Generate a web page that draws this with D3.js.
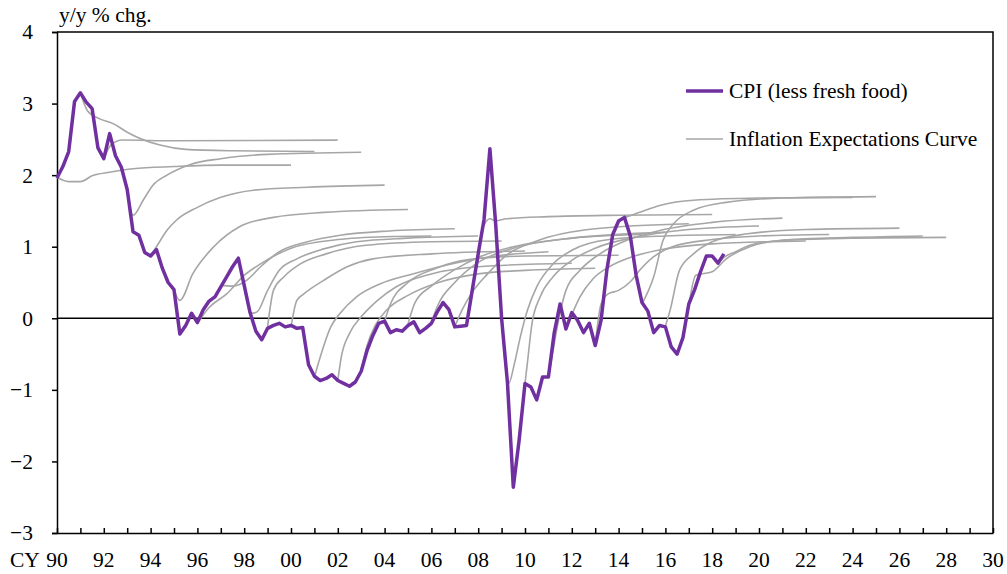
<!DOCTYPE html>
<meta charset="utf-8">
<script src="https://cdn.jsdelivr.net/npm/d3@7"></script>
<style>
body { margin: 0; background: #fff; }
text { font-family: "Liberation Serif", "Times New Roman", serif; fill: #000; }
.tick text { font-size: 21.5px; }
.cpi { fill: none; stroke: #7030a0; stroke-width: 3.5px; stroke-linejoin: round; }
.exp { fill: none; stroke: #a6a6a6; stroke-width: 1.6px; }
</style>
<svg width="1007" height="574"></svg>
<script>

// CPI (less fresh food), y/y % chg., quarterly from 1990 Q1
var cpiStart = 1990;
var cpiValues = [
  1.96, 2.12, 2.33, 3.03, 3.15, 3.02, 2.93, 2.38,   // 90-91
  2.23, 2.58, 2.27, 2.11, 1.80, 1.21, 1.16, 0.92,   // 92-93
  0.87, 0.96, 0.70, 0.50, 0.40, -0.22, -0.10, 0.07, // 94-95
  -0.06, 0.12, 0.24, 0.30, 0.44, 0.58, 0.72, 0.84,  // 96-97
  0.46, 0.08, -0.18, -0.30, -0.14, -0.10, -0.07, -0.12, // 98-99
  -0.10, -0.14, -0.13, -0.65, -0.81, -0.87, -0.84, -0.79, // 00-01
  -0.87, -0.91, -0.95, -0.89, -0.74, -0.45, -0.24, -0.07, // 02-03
  -0.04, -0.20, -0.16, -0.18, -0.10, -0.05, -0.20, -0.14, // 04-05
  -0.07, 0.09, 0.22, 0.12, -0.12, -0.11, -0.10, 0.40,   // 06-07
  0.90, 1.38, 2.37, 1.30, 0.00, -0.90, -2.36, -1.70,    // 08-09
  -0.91, -0.96, -1.14, -0.82, -0.82, -0.20, 0.20, -0.15, // 10-11
  0.08, -0.03, -0.20, -0.07, -0.38, -0.03, 0.68, 1.17,  // 12-13
  1.36, 1.41, 1.15, 0.60, 0.22, 0.10, -0.20, -0.10,     // 14-15
  -0.12, -0.40, -0.50, -0.27, 0.20, 0.40, 0.65, 0.87,   // 16-17
  0.87, 0.77, 0.90                                       // 18
];

// Inflation expectations curves, one per year, [year, % chg.]
var expCurves = [
  [[1990,1.97],[1990.5,1.91],[1991,1.91],[1991.5,1.99],[1992.25,2.04],[1993.25,2.09],[1995,2.12],[1997,2.14],[2000,2.14]],
  [[1991,3.15],[1991.3,2.9],[1991.8,2.79],[1992.4,2.72],[1993,2.6],[1993.5,2.52],[1994.4,2.42],[1995.5,2.36],[1997.5,2.34],[2001,2.33]],
  [[1992,2.22],[1992.3,2.42],[1992.8,2.49],[1995,2.48],[2002,2.49]],
  [[1993,1.78],[1993.25,1.44],[1993.7,1.66],[1994.1,1.86],[1994.7,2.0],[1995.7,2.15],[1997,2.23],[1999,2.29],[2003,2.32]],
  [[1994,0.88],[1994.25,1.0],[1994.7,1.23],[1995.1,1.37],[1996,1.55],[1997,1.69],[1998.4,1.79],[2000.7,1.83],[2004,1.86]],
  [[1995,0.4],[1995.25,0.25],[1995.8,0.62],[1996.7,1.0],[1997.8,1.28],[1999.25,1.41],[2001.4,1.48],[2005,1.52]],
  [[1996,-0.07],[1996.5,0.15],[1997.25,0.34],[1998,0.6],[1998.7,0.76],[2000,0.98],[2002,1.1],[2004,1.14],[2006,1.15]],
  [[1997,0.46],[1997.5,0.45],[1998.1,0.53],[1998.7,0.72],[1999.5,0.93],[2000.7,1.07],[2002.1,1.16],[2004.2,1.22],[2007,1.25]],
  [[1998,0.44],[1998.3,0.07],[1998.55,0.09],[1999,0.39],[1999.5,0.67],[2000.25,0.83],[2001.4,0.97],[2002.8,1.07],[2005,1.12],[2008,1.15]],
  [[1999,-0.12],[1999.25,0.39],[1999.7,0.58],[2000.4,0.76],[2001.5,0.9],[2003.2,1.02],[2006,1.07],[2009,1.08]],
  [[2000,-0.12],[2000.25,0.25],[2000.55,0.34],[2001.4,0.53],[2002.4,0.72],[2003.5,0.83],[2006,0.9],[2010,0.94]],
  [[2001,-0.82],[2001.25,-0.54],[2001.7,-0.12],[2002.1,0.07],[2002.8,0.3],[2003.8,0.48],[2005.2,0.62],[2007.3,0.79],[2009,0.88],[2011,0.93]],
  [[2002,-0.87],[2002.15,-0.54],[2002.5,-0.21],[2003,0.02],[2003.7,0.25],[2004.5,0.44],[2006,0.62],[2008,0.72],[2012,0.77]],
  [[2003,-0.73],[2003.25,-0.38],[2003.6,-0.1],[2004.1,0.12],[2005,0.32],[2006.3,0.5],[2008,0.62],[2010,0.67],[2013,0.70]],
  [[2004,-0.04],[2004.25,0.2],[2005,0.5],[2006.2,0.7],[2007.6,0.82],[2010,0.87],[2014,0.88]],
  [[2005,-0.08],[2005.3,0.22],[2006,0.45],[2007,0.68],[2008,0.85],[2009.5,1.0],[2012,1.12],[2015,1.17]],
  [[2006,-0.05],[2006.3,0.2],[2007,0.5],[2008,0.78],[2009.5,0.98],[2012,1.12],[2016,1.2]],
  [[2007,-0.12],[2007.3,0.11],[2007.8,0.39],[2008.4,0.62],[2009.2,0.88],[2010.5,1.08],[2013,1.25],[2017,1.32]],
  [[2008,0.9],[2008.25,1.3],[2008.5,1.39],[2008.75,1.36],[2009.2,1.39],[2011,1.42],[2014,1.44],[2018,1.45]],
  [[2009,0.0],[2009.3,-0.91],[2009.55,-0.63],[2009.8,-0.26],[2010.1,0.11],[2010.5,0.44],[2011.2,0.76],[2012,0.95],[2013.6,1.1],[2016,1.15],[2019,1.17]],
  [[2010,-0.91],[2010.1,-0.63],[2010.3,-0.07],[2010.65,0.3],[2011.2,0.58],[2012,0.81],[2013,0.98],[2015,1.15],[2017,1.24],[2020,1.29]],
  [[2011,-0.82],[2011.15,-0.55],[2011.35,-0.17],[2011.75,0.39],[2012.35,0.67],[2013.2,0.9],[2014.35,1.09],[2015.8,1.23],[2018,1.34],[2021,1.40]],
  [[2012,0.05],[2012.35,0.3],[2012.9,0.55],[2013.6,0.72],[2014.5,0.85],[2016,0.97],[2018,1.04],[2022,1.08]],
  [[2013,-0.38],[2013.25,0.2],[2013.55,0.34],[2014,0.39],[2014.5,0.51],[2014.9,0.67],[2015.5,0.86],[2016.3,1.0],[2018,1.1],[2020,1.15],[2023,1.17]],
  [[2014,1.37],[2014.3,1.41],[2014.9,1.48],[2015.8,1.58],[2017.2,1.65],[2020,1.68],[2024,1.69]],
  [[2015,0.2],[2015.5,0.58],[2015.9,1.09],[2016.35,1.32],[2017.2,1.51],[2018.6,1.62],[2021,1.68],[2025,1.70]],
  [[2016,-0.11],[2016.2,0.11],[2016.6,0.67],[2017.2,0.9],[2018,1.07],[2019.5,1.18],[2022,1.24],[2026,1.26]],
  [[2017,0.18],[2017.3,0.6],[2018,0.65],[2018.6,0.83],[2019.6,1.0],[2021,1.09],[2024,1.13],[2027,1.15]],
  [[2018.25,0.77],[2018.5,0.85],[2019,0.93],[2019.6,1.02],[2021,1.09],[2024,1.12],[2028,1.13]]
];

var yTicks = [-3, -2, -1, 0, 1, 2, 3, 4];
var xLabelYears = d3.range(1990, 2031, 2);
var legendLabels = ["CPI (less fresh food)", "Inflation Expectations Curve"];

var svg = d3.select("svg");
var x = d3.scaleLinear().domain([1990, 2030]).range([57, 993]);
var y = d3.scaleLinear().domain([-3, 4]).range([533, 32]);

// frame top/right
svg.append("path")
    .attr("d", "M" + x(1990) + "," + y(4) + "H" + x(2030) + "V" + y(-3))
    .attr("fill", "none").attr("stroke", "#000").attr("stroke-width", 1.5);

// y axis
var yAxis = svg.append("g")
    .attr("transform", "translate(" + x(1990) + ",0)")
    .call(d3.axisLeft(y).tickValues(yTicks).tickSize(5).tickPadding(19).tickFormat(d3.format("d")));
yAxis.select(".domain").attr("stroke-width", 1.5);
yAxis.selectAll(".tick line").attr("stroke-width", 1.5);

// x axis: yearly ticks pointing up, labels every 2 years
var xAxis = svg.append("g")
    .attr("transform", "translate(0," + y(-3) + ")")
    .call(d3.axisBottom(x).tickValues(d3.range(1990, 2031, 1)).tickSizeInner(-5).tickSizeOuter(0).tickFormat(""));
xAxis.select(".domain").attr("stroke-width", 1.5);
xAxis.selectAll(".tick line").attr("stroke-width", 1.5);

svg.append("g").selectAll("text")
    .data(xLabelYears)
  .enter().append("text")
    .attr("x", function(d) { return x(d); })
    .attr("y", 567)
    .attr("text-anchor", "middle")
    .style("font-size", "21.5px")
    .text(function(d) { return d3.format("02d")(d % 100); });

svg.append("text")
    .attr("x", 10).attr("y", 567)
    .style("font-size", "21.5px")
    .text("CY");

svg.append("text")
    .attr("x", 59).attr("y", 22)
    .style("font-size", "21.5px")
    .text("y/y % chg.");

// zero line
svg.append("line")
    .attr("x1", x(1990)).attr("x2", x(2030))
    .attr("y1", y(0)).attr("y2", y(0))
    .attr("stroke", "#000").attr("stroke-width", 1.5);

// expectations curves
var expLine = d3.line()
    .x(function(d) { return x(d[0]); })
    .y(function(d) { return y(d[1]); })
    .curve(d3.curveMonotoneX);

svg.append("g").selectAll("path")
    .data(expCurves)
  .enter().append("path")
    .attr("class", "exp")
    .attr("d", expLine);

// CPI
var cpiLine = d3.line()
    .x(function(d, i) { return x(cpiStart + i * 0.25); })
    .y(function(d) { return y(d); });

svg.append("path")
    .datum(cpiValues)
    .attr("class", "cpi")
    .attr("d", cpiLine);

// legend
var legend = svg.append("g").selectAll("g")
    .data(legendLabels)
  .enter().append("g")
    .attr("transform", function(d, i) { return "translate(686," + (91 + i * 48) + ")"; });

legend.append("line")
    .attr("x2", 37)
    .attr("class", function(d, i) { return i == 0 ? "cpi" : "exp"; });

legend.append("text")
    .attr("x", 43).attr("y", 7)
    .style("font-size", "21.5px")
    .text(function(d) { return d; });

</script>
